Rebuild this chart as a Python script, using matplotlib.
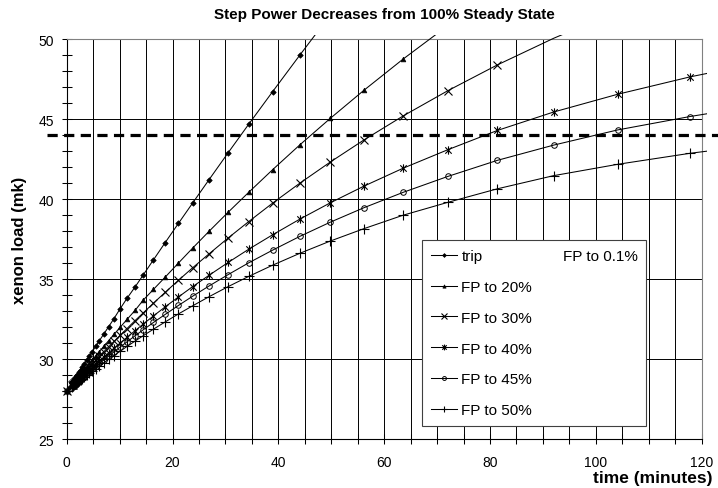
import numpy as np
import matplotlib
matplotlib.use("Agg")
import matplotlib.pyplot as plt
from matplotlib.lines import Line2D
from matplotlib.path import Path
from matplotlib.ticker import MultipleLocator, FuncFormatter
from matplotlib.transforms import Bbox, TransformedBbox

plt.rcParams['font.family'] = ['Liberation Sans', 'DejaVu Sans']

# time after the power step (minutes), same sample times for every series
minutes = [0, 0.98, 1.11, 1.26, 1.42, 1.60, 1.81, 2.05, 2.32, 2.62, 2.96, 3.35,
           3.79, 4.28, 4.84, 5.47, 6.18, 6.99, 7.90, 8.93, 10.1, 11.4, 12.9,
           14.5, 16.4, 18.6, 21.1, 23.8, 26.9, 30.5, 34.4, 38.9, 44.1, 49.8,
           56.2, 63.6, 72.0, 81.4, 92.0, 104.1, 117.8, 133.2]

# xenon load (mk)
trip = [28.00, 28.50, 28.57, 28.65, 28.73, 28.82, 28.93, 29.05, 29.19, 29.34,
        29.52, 29.72, 29.94, 30.19, 30.47, 30.79, 31.15, 31.56, 32.01, 32.53,
        33.15, 33.80, 34.50, 35.28, 36.21, 37.28, 38.48, 39.76, 41.22, 42.90,
        44.69, 46.72, 49.03, 51.52]
fp20 = [28.00, 28.40, 28.45, 28.51, 28.58, 28.65, 28.74, 28.83, 28.94, 29.06,
        29.20, 29.35, 29.53, 29.73, 29.95, 30.20, 30.47, 30.79, 31.14, 31.54,
        31.99, 32.48, 33.04, 33.70, 34.36, 35.12, 36.00, 36.94, 37.99, 39.18,
        40.43, 41.84, 43.41, 45.05, 46.82, 48.77, 50.85]
fp30 = [28.00, 28.35, 28.40, 28.45, 28.51, 28.58, 28.65, 28.74, 28.83, 28.94,
        29.06, 29.20, 29.35, 29.52, 29.71, 29.93, 30.18, 30.45, 30.76, 31.10,
        31.49, 31.91, 32.40, 32.90, 33.50, 34.17, 34.92, 35.71, 36.58, 37.57,
        38.60, 39.75, 41.01, 42.32, 43.71, 45.21, 46.78, 48.40, 50.06, 51.76]
fp40 = [28.00, 28.31, 28.35, 28.40, 28.45, 28.50, 28.57, 28.64, 28.72, 28.82,
        28.92, 29.04, 29.17, 29.32, 29.49, 29.67, 29.88, 30.12, 30.38, 30.68,
        31.00, 31.36, 31.77, 32.20, 32.70, 33.26, 33.88, 34.53, 35.24, 36.04,
        36.87, 37.77, 38.76, 39.77, 40.82, 41.94, 43.09, 44.30, 45.45, 46.56,
        47.65, 48.68]
fp45 = [28.00, 28.28, 28.32, 28.36, 28.41, 28.46, 28.52, 28.59, 28.67, 28.75,
        28.85, 28.95, 29.08, 29.21, 29.37, 29.54, 29.73, 29.94, 30.18, 30.45,
        30.75, 31.08, 31.45, 31.84, 32.29, 32.79, 33.35, 33.93, 34.57, 35.28,
        36.02, 36.81, 37.68, 38.56, 39.47, 40.43, 41.42, 42.43, 43.38, 44.33,
        45.17, 46.00]
fp50 = [28.00, 28.26, 28.29, 28.33, 28.37, 28.42, 28.47, 28.54, 28.61, 28.68,
        28.77, 28.87, 28.98, 29.10, 29.24, 29.40, 29.57, 29.76, 29.98, 30.22,
        30.49, 30.79, 31.12, 31.47, 31.87, 32.32, 32.82, 33.33, 33.90, 34.53,
        35.17, 35.87, 36.62, 37.38, 38.16, 39.00, 39.80, 40.65, 41.47, 42.18,
        42.87, 43.51]

series = [trip, fp20, fp30, fp40, fp45, fp50]
labels = ['trip', 'FP to 20%', 'FP to 30%', 'FP to 40%', 'FP to 45%', 'FP to 50%']
limit = 44.0   # dashed limit line (mk)

# Excel style "star" marker: an x with a vertical bar through it
star = Path([(-1, -1), (1, 1), (-1, 1), (1, -1), (0, -1.3), (0, 1.3)],
            [Path.MOVETO, Path.LINETO] * 3)
styles = [
    dict(marker='D', ms=2.8, mfc='k', mew=0.5),
    dict(marker='^', ms=3.4, mfc='k', mew=0.5),
    dict(marker='x', ms=6.0, mfc='none', mew=0.8),
    dict(marker=star, ms=6.0, mfc='none', mew=0.8),
    dict(marker='o', ms=4.0, mfc='none', mew=0.7),
    dict(marker='+', ms=7.0, mfc='none', mew=0.8),
]

fig = plt.figure(figsize=(7.18, 4.89), dpi=100)
ax = fig.add_axes([0.0929, 0.1002, 0.8844, 0.8174])
ax.set_xlim(0, 120)
ax.set_ylim(25, 50)

# lines may run a little past the plot border, like the original
clip = TransformedBbox(Bbox([[-0.02, -0.02], [1.008, 1.011]]), ax.transAxes)

for y, st in zip(series, styles):
    t = np.array(minutes[:len(y)])
    y = np.array(y)
    ln, = ax.plot(t, y, color='k', lw=0.75, zorder=3)
    ln.set_clip_path(None)
    ln.set_clip_box(clip)
    inside = (t <= 120) & (y <= 50)
    ax.plot(t, np.where(inside, y, np.nan), ls='none', color='k', mec='k',
            zorder=4, clip_on=False, **st)

ax.axhline(limit, xmin=-0.0315, xmax=1.03, color='k', lw=2.3,
           ls=(0, (3.2, 2.0)), clip_on=False, zorder=5)

# axes, ticks and grid
ax.xaxis.set_major_locator(MultipleLocator(5))
ax.xaxis.set_major_formatter(FuncFormatter(lambda v, p: '%d' % v if v % 20 == 0 else ''))
ax.yaxis.set_major_locator(MultipleLocator(5))
ax.yaxis.set_minor_locator(MultipleLocator(1))
ax.grid(True, which='major', color='k', lw=0.7)
ax.set_axisbelow(True)
ax.tick_params(which='both', direction='inout', length=6.5, width=0.75,
               labelsize=10, pad=6.0, color='k')
ax.tick_params(axis='x', pad=8.0)
for s in ['top', 'right']:
    ax.spines[s].set_color('#808080')
for s in ['left', 'bottom']:
    ax.spines[s].set_color('k')
for s in ax.spines.values():
    s.set_linewidth(0.8)

ax.set_title('Step Power Decreases from 100% Steady State', fontsize=11,
             fontweight='bold', pad=15)
ax.set_ylabel('xenon load (mk)', fontsize=12, fontweight='bold')
ax.yaxis.set_label_coords(-0.062, 0.5)
ax.set_xlabel('time (minutes)', fontsize=12.5, fontweight='bold', ha='right')
ax.xaxis.set_label_coords(1.017, -0.077)

handles = [Line2D([], [], color='k', lw=0.75, mec='k', **st) for st in styles]
leg = ax.legend(handles, labels, loc='upper left',
                bbox_to_anchor=(0.5873, 0.5072, 0.312, 0),
                bbox_transform=fig.transFigure, mode='expand', borderaxespad=0,
                fancybox=False, framealpha=1, edgecolor='#404040', fontsize=11,
                handlelength=1.7, handletextpad=0.3, labelspacing=1.1,
                borderpad=0.6, markerscale=0.7)
leg.get_frame().set_linewidth(0.8)
leg.set_zorder(10)

fig.canvas.draw()
bb = leg.get_texts()[0].get_window_extent()
fig.text(562.7 / 718, bb.y0 / fig.bbox.height, 'FP to 0.1%', fontsize=11,
         va='bottom', ha='left', zorder=11)

fig.savefig('out.png', dpi=100)
